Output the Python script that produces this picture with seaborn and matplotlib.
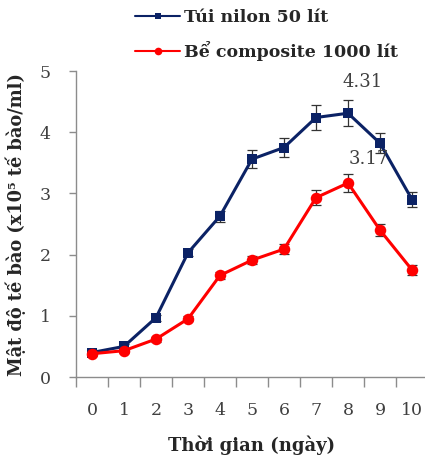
import numpy as np
import pandas as pd
import matplotlib
matplotlib.use("Agg")
import matplotlib.pyplot as plt
from matplotlib.lines import Line2D
import seaborn as sns

days = list(range(11))
tui_nilon = [0.40, 0.50, 0.97, 2.03, 2.63, 3.56, 3.75, 4.24, 4.31, 3.82, 2.90]
tui_err = [0.04, 0.04, 0.05, 0.06, 0.09, 0.15, 0.16, 0.20, 0.21, 0.16, 0.12]
be_comp = [0.38, 0.43, 0.62, 0.95, 1.66, 1.91, 2.09, 2.93, 3.17, 2.40, 1.75]
be_err = [0.03, 0.03, 0.04, 0.04, 0.06, 0.07, 0.08, 0.12, 0.14, 0.10, 0.08]
series_names = ["Túi nilon 50 lít", "Bể composite 1000 lít"]
peak_labels = ["4.31", "3.17"]
x_ticklabels = [str(d) for d in days]
y_ticks = [0, 1, 2, 3, 4, 5]

sns.set_style("white")
plt.rcParams['font.family'] = ['DejaVu Serif', 'Liberation Serif']

df = pd.DataFrame({
    "day": days * 2,
    "value": tui_nilon + be_comp,
    "series": [series_names[0]] * 11 + [series_names[1]] * 11,
})

colors = {series_names[0]: "#0B2265", series_names[1]: "#FF0000"}
marker_map = {series_names[0]: 's', series_names[1]: 'o'}

fig = plt.figure(figsize=(4.25, 4.59), dpi=100)
ax = fig.add_axes([76/425, (459-377)/459, (428-76)/425, (377-71)/459])

ax.errorbar(days, tui_nilon, yerr=tui_err, fmt='none', ecolor='#333333',
            elinewidth=0.9, capsize=3.6, capthick=0.9, zorder=2)
ax.errorbar(days, be_comp, yerr=be_err, fmt='none', ecolor='#333333',
            elinewidth=0.9, capsize=3.6, capthick=0.9, zorder=2)

sns.lineplot(data=df, x="day", y="value", hue="series", style="series",
             palette=colors, markers=marker_map,
             dashes=False, linewidth=2.2, markersize=6.8, markeredgewidth=0,
             ax=ax, zorder=3, legend=False)
for line in ax.get_lines():
    if line.get_marker() == 'o':
        line.set_markersize(8.3)

ax.set_xlim(-0.5, 10.5)
ax.set_ylim(0, 5)
ax.set_xticks(days)
ax.set_xticklabels(x_ticklabels)
ax.set_xticks(np.arange(-0.5, 10.6, 1), minor=True)
ax.tick_params(axis='x', which='major', length=0, pad=18, labelsize=12.5, labelcolor='#404040')
ax.tick_params(axis='x', which='minor', length=7, width=1, color='#8c8c8c', direction='out')
ax.set_yticks(y_ticks)
ax.tick_params(axis='y', length=5, width=1, color='#8c8c8c', direction='out', labelsize=12.5,
               labelcolor='#404040', pad=13)
ax.tick_params(bottom=True, left=True)
ax.xaxis.set_tick_params(which='minor', bottom=True)

for s in ['top', 'right']:
    ax.spines[s].set_visible(False)
for s in ['left', 'bottom']:
    ax.spines[s].set_color('#8c8c8c')
    ax.spines[s].set_linewidth(1)

ax.set_xlabel("Thời gian (ngày)", fontsize=13, fontweight='bold', labelpad=12)
ax.set_ylabel("Mật độ tế bào (x10⁵ tế bào/ml)", fontsize=12.8, fontweight='bold', labelpad=10)

ax.annotate(peak_labels[0], xy=(8, tui_nilon[8]), xytext=(15, 31), textcoords='offset pixels',
            ha='center', va='center', fontsize=13, color='#404040', zorder=5)
ax.annotate(peak_labels[1], xy=(8, be_comp[8]), xytext=(21, 24), textcoords='offset pixels',
            ha='center', va='center', fontsize=13, color='#404040', zorder=5)

handles = [Line2D([], [], color=colors[n], marker=marker_map[n], lw=1.5,
                  markersize=(5.5 if marker_map[n] == 'o' else 4.8), markeredgewidth=0)
           for n in series_names]
leg = fig.legend(handles, series_names, loc='upper left', bbox_to_anchor=(135/425, 1 - 9/459),
                 frameon=False, prop={'family': 'DejaVu Serif', 'weight': 'bold', 'size': 12.5},
                 handlelength=2.6, handletextpad=0.2, labelspacing=0.85, borderpad=0, borderaxespad=0)

fig.savefig("out.png", dpi=100)
